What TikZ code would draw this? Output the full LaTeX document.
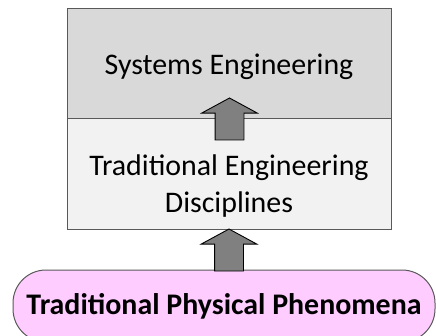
\documentclass[tikz,border=0pt]{standalone}
\usepackage{fontspec}
\setmainfont{Carlito}
\usepackage{xcolor}
\usetikzlibrary{shapes.arrows}
\definecolor{segray}{HTML}{D9D9D9}
\definecolor{tegray}{HTML}{F2F2F2}
\definecolor{phenopink}{HTML}{FFCCFF}
\definecolor{edgegray}{HTML}{595959}

\begin{document}
\begin{tikzpicture}[x=1pt,y=1pt,
    font=\fontsize{29.9}{37}\selectfont,
    layer/.style={draw=edgegray, line width=1pt, minimum width=324pt, minimum height=110pt, inner sep=0pt, outer sep=0pt},
    upflow/.style={single arrow, draw=black, fill=gray, line width=0.9pt, rotate=90, minimum height=42pt,
        inner xsep=0pt, inner ysep=14pt, outer sep=0pt, single arrow head extend=13.5pt, single arrow tip angle=123}]
            \useasboundingbox (0,0) rectangle (436,335);
            \clip (0,0) rectangle (436,335);

            % Base of the stack
            \node[layer, fill=phenopink, rounded corners=33pt, minimum width=422pt, minimum height=72pt, font=\fontsize{29.9}{37}\selectfont\bfseries] (pheno) at (224,29) {Traditional Physical Phenomena};

            % Two layers on top
            \node[layer, fill=tegray] (tradeng) at (229,161) {};
            \node[layer, fill=segray] (syseng) at (229,271) {};
            \node (setxt) at (229,268) {Systems Engineering};
            \node[align=center] (tradtxt) at (229,149) {Traditional Engineering\\Disciplines};

            % Block arrows pointing up
            \node[upflow, anchor=tail] (upA) at (229.5,195) {};
            \node[upflow, anchor=tip] (upB) at (tradeng.south) {};
        \end{tikzpicture}
\end{document}
